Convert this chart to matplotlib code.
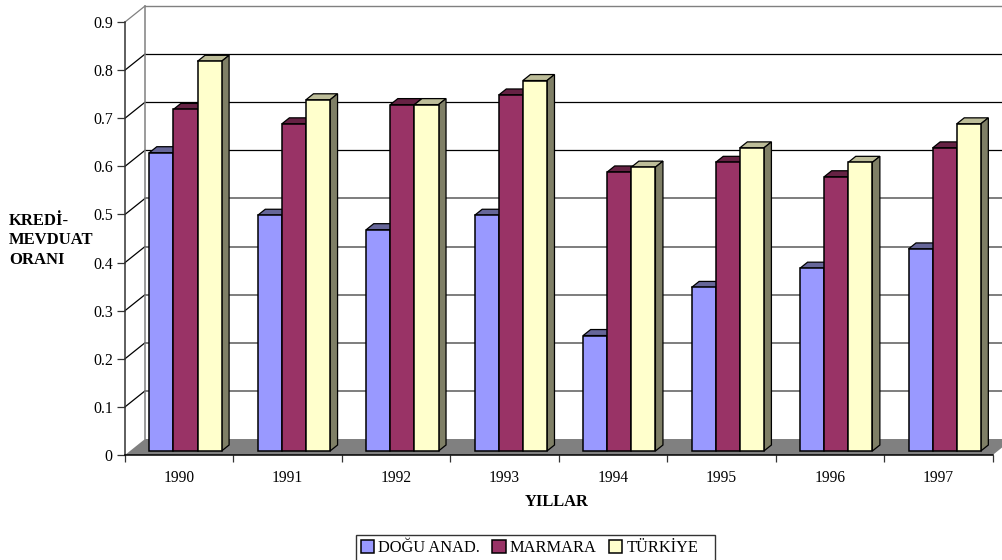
import matplotlib
matplotlib.use("Agg")
import matplotlib.pyplot as plt
from matplotlib.patches import Polygon, Rectangle

plt.rcParams['font.family'] = ['Liberation Serif', 'DejaVu Serif']

years = ['1990', '1991', '1992', '1993', '1994', '1995', '1996', '1997']
series_names = ['DOĞU ANAD.', 'MARMARA', 'TÜRKİYE']
dogu = [0.62, 0.49, 0.46, 0.49, 0.24, 0.34, 0.38, 0.42]
marmara = [0.71, 0.68, 0.72, 0.74, 0.58, 0.60, 0.57, 0.63]
turkiye = [0.81, 0.73, 0.72, 0.77, 0.59, 0.63, 0.60, 0.68]
y_ticks = [0, 0.1, 0.2, 0.3, 0.4, 0.5, 0.6, 0.7, 0.8, 0.9]
y_labels = ['0', '0.1', '0.2', '0.3', '0.4', '0.5', '0.6', '0.7', '0.8', '0.9']

W, H = 1002, 560
L, R, T, B = 125.0, 992.7, 22.0, 455.0
fig = plt.figure(figsize=(W / 100, H / 100), dpi=100, facecolor='white')
ax = fig.add_axes([L / W, 1 - B / H, (R - L) / W, (B - T) / H])
ax.set_xlim(0, len(years))
ax.set_ylim(0, 0.9)
ax.patch.set_visible(False)

px = len(years) / (R - L)      # data units per pixel, x
py = 0.9 / (B - T)             # data units per pixel, y
wx, wy = 20 * px, 16 * py      # depth of the chart box
dx, dy = 7.5 * px, 6 * py      # depth of one bar
barw = 24.1 * px
base = 4 * py

n = len(years)
# floor
ax.add_patch(Polygon([(0, 0), (wx, wy), (n + wx, wy), (n, 0)], closed=True,
                     fc='#808080', ec='none', zorder=1, clip_on=False))
# back wall
for v in y_ticks:
    if v == 0:
        continue
    if v >= 0.9:
        col, lw = '#808080', 1.0
    elif v >= 0.55:
        col, lw = '#000000', 0.9
    else:
        col, lw = '#5A5A5A', 1.1
    ax.plot([wx, n + 2 * wx], [v + wy, v + wy], color=col, lw=lw, zorder=1, clip_on=False)
    ax.plot([0, wx], [v, v + wy], color='#000000' if v < 0.9 else '#808080', lw=0.9, zorder=1, clip_on=False)
ax.plot([wx, wx], [wy, 0.9 + wy], color='#808080', lw=1.1, zorder=1, clip_on=False)

colors = ['#9999FF', '#993366', '#FFFFCC']
tops = ['#666699', '#662244', '#BDBD99']
sides = ['#666699', '#662244', '#7F7F66']
handles = []
for s, vals in enumerate([dogu, marmara, turkiye]):
    xs = [i + (24.3 * px) + s * barw for i in range(n)]
    bars = ax.bar(xs, vals, width=barw, bottom=base, align='edge',
                  color=colors[s], edgecolor='black', linewidth=1.1, zorder=4,
                  label=series_names[s], clip_on=False)
    handles.append(bars)
    for x, v in zip(xs, vals):
        t = v + base
        ax.add_patch(Polygon([(x, t), (x + dx, t + dy), (x + barw + dx, t + dy), (x + barw, t)],
                             closed=True, fc=tops[s], ec='black', lw=0.9, zorder=3, clip_on=False))
        if s == 2:
            ax.add_patch(Polygon([(x + barw, base), (x + barw + dx, base + dy),
                                  (x + barw + dx, t + dy), (x + barw, t)],
                                 closed=True, fc=sides[s], ec='black', lw=0.9, zorder=3, clip_on=False))

for sp in ['top', 'right']:
    ax.spines[sp].set_visible(False)
ax.spines['left'].set_color('#333333')
ax.spines['left'].set_linewidth(1.1)
ax.spines['bottom'].set_color('#000000')
ax.spines['bottom'].set_linewidth(1.1)
ax.spines['left'].set_zorder(5)
ax.spines['bottom'].set_zorder(5)

ax.set_yticks(y_ticks)
ax.set_yticklabels(y_labels, fontsize=11.4)
ax.tick_params(axis='y', length=5.8, width=0.9, pad=3, color='#333333')
ax.set_xticks(range(n + 1))
ax.set_xticklabels([''] * (n + 1))
ax.tick_params(axis='x', length=5, width=0.9, color='#333333')
for i, lab in enumerate(years):
    ax.text(i + 0.5, -23 * py, lab, ha='center', va='center', fontsize=11.2)

fig.text(557 / W, 1 - 502 / H, 'YILLAR', ha='center', va='center', fontsize=11.9, fontweight='bold')
fig.text(9 / W, 1 - 240.5 / H, 'KREDİ-\nMEVDUAT\nORANI', ha='left', va='center', fontsize=12,
         fontweight='bold', linespacing=1.28)

ax.add_patch(Rectangle((356 / W, 1 - 563 / H), 359 / W, 28 / H, transform=fig.transFigure,
                       fc='white', ec='#333333', lw=1.0, clip_on=False, zorder=9))
leg = ax.legend(handles=[h[0] for h in handles], labels=series_names, ncol=3,
                loc='lower left', bbox_to_anchor=(356 / W, 1 - 561 / H, 347 / W, 24 / H),
                bbox_transform=fig.transFigure, mode='expand', fontsize=11.8, frameon=False,
                borderaxespad=0, handlelength=0.8, handleheight=0.8, handletextpad=0.25,
                columnspacing=0.9, borderpad=0.3)
leg.set_zorder(10)

fig.savefig('out.png', dpi=100)
